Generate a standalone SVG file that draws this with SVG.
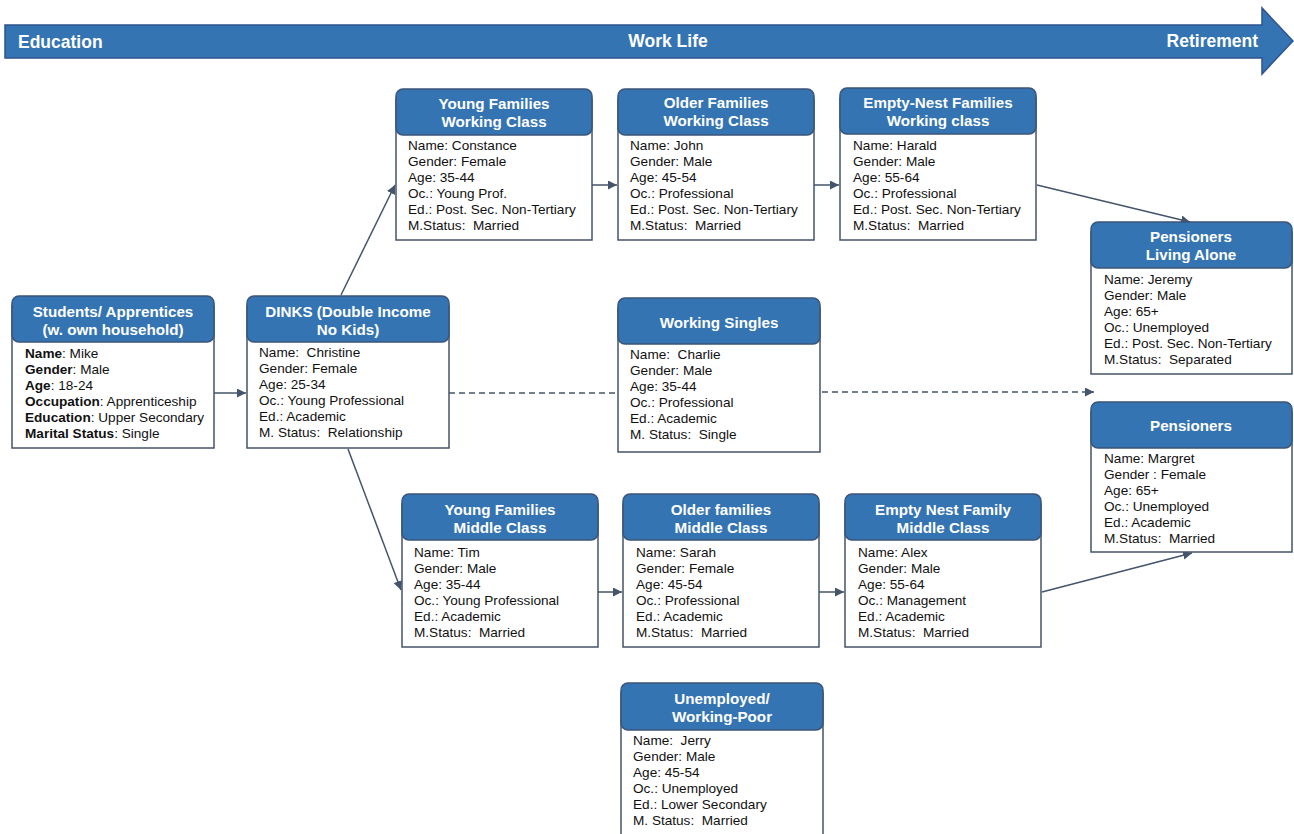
<svg xmlns="http://www.w3.org/2000/svg" width="1294" height="834" viewBox="0 0 1294 834">
<defs>
<style>
.banner{fill:#3474B3;stroke:#2F528F;stroke-width:1.5}
.btxt{font-family:"Liberation Sans",Arial,sans-serif;font-weight:bold;font-size:17.5px;fill:#fff}
.body{fill:#fff;stroke:#44546A;stroke-width:1.5}
.hdr{fill:#3474B3;stroke:#3B5478;stroke-width:1.5}
.ttl{font-family:"Liberation Sans",Arial,sans-serif;font-weight:bold;font-size:15.2px;fill:#fff;text-anchor:middle}
.txt{font-family:"Liberation Sans",Arial,sans-serif;font-size:13.6px;fill:#111}
.b{font-weight:bold}
.con{stroke:#44546A;stroke-width:1.5;fill:none}
.dash{stroke-dasharray:6,4}
</style>
<marker id="ah" viewBox="0 0 10 10" refX="10" refY="5" markerWidth="9" markerHeight="9" markerUnits="userSpaceOnUse" orient="auto">
<path d="M0,0 L10,5 L0,10 z" fill="#44546A"/>
</marker>
</defs>
<rect width="1294" height="834" fill="#fff"/>
<g id="timeline">
<polygon class="banner" points="5,25 1262,25 1262,8 1293,41 1262,74 1262,58 5,58"/>
<text class="btxt" x="18" y="48">Education</text>
<text class="btxt" x="668" y="47" text-anchor="middle">Work Life</text>
<text class="btxt" x="1258" y="47" text-anchor="end">Retirement</text>
</g>
<g id="connectors">
<line class="con" x1="214" y1="393" x2="246" y2="393" marker-end="url(#ah)"/>
<line class="con" x1="341" y1="295" x2="395" y2="185" marker-end="url(#ah)"/>
<line class="con" x1="348" y1="449" x2="401" y2="590" marker-end="url(#ah)"/>
<line class="con" x1="592" y1="185" x2="617" y2="185" marker-end="url(#ah)"/>
<line class="con" x1="814" y1="185" x2="839" y2="185" marker-end="url(#ah)"/>
<line class="con" x1="1037" y1="185" x2="1190" y2="222" marker-end="url(#ah)"/>
<line class="con" x1="598" y1="592" x2="622" y2="592" marker-end="url(#ah)"/>
<line class="con" x1="819" y1="592" x2="844" y2="592" marker-end="url(#ah)"/>
<line class="con" x1="1042" y1="592" x2="1192" y2="553" marker-end="url(#ah)"/>
<line class="con dash" x1="449" y1="393" x2="618" y2="393"/>
<line class="con dash" x1="822" y1="392" x2="1094" y2="392" marker-end="url(#ah)"/>
</g>
<g id="students">
<rect class="body" x="12" y="306" width="202" height="142"/>
<rect class="hdr" x="12" y="296" width="202" height="46" rx="7"/>
<text class="ttl" x="113" y="316.5">Students/ Apprentices</text>
<text class="ttl" x="113" y="334.5">(w. own household)</text>
<text class="txt" x="25" y="358"><tspan class="b">Name</tspan>: Mike</text>
<text class="txt" x="25" y="374"><tspan class="b">Gender</tspan>: Male</text>
<text class="txt" x="25" y="390"><tspan class="b">Age</tspan>: 18-24</text>
<text class="txt" x="25" y="406"><tspan class="b">Occupation</tspan>: Apprenticeship</text>
<text class="txt" x="25" y="422"><tspan class="b">Education</tspan>: Upper Secondary</text>
<text class="txt" x="25" y="438"><tspan class="b">Marital Status</tspan>: Single</text>
</g>
<g id="dinks">
<rect class="body" x="247" y="306" width="202" height="142"/>
<rect class="hdr" x="247" y="296" width="202" height="46" rx="7"/>
<text class="ttl" x="348" y="316.5">DINKS (Double Income</text>
<text class="ttl" x="348" y="334.5">No Kids)</text>
<text class="txt" x="259" y="357" xml:space="preserve">Name:  Christine</text>
<text class="txt" x="259" y="373">Gender: Female</text>
<text class="txt" x="259" y="389">Age: 25-34</text>
<text class="txt" x="259" y="405">Oc.: Young Professional</text>
<text class="txt" x="259" y="421">Ed.: Academic</text>
<text class="txt" x="259" y="437" xml:space="preserve">M. Status:  Relationship</text>
</g>
<g id="young-families-working">
<rect class="body" x="396" y="99" width="196" height="141"/>
<rect class="hdr" x="396" y="89" width="196" height="46" rx="7"/>
<text class="ttl" x="494" y="109">Young Families</text>
<text class="ttl" x="494" y="127">Working Class</text>
<text class="txt" x="408" y="150">Name: Constance</text>
<text class="txt" x="408" y="166">Gender: Female</text>
<text class="txt" x="408" y="182">Age: 35-44</text>
<text class="txt" x="408" y="198">Oc.: Young Prof.</text>
<text class="txt" x="408" y="214">Ed.: Post. Sec. Non-Tertiary</text>
<text class="txt" x="408" y="230" xml:space="preserve">M.Status:  Married</text>
</g>
<g id="older-families-working">
<rect class="body" x="618" y="99" width="196" height="141"/>
<rect class="hdr" x="618" y="89" width="196" height="46" rx="7"/>
<text class="ttl" x="716" y="108">Older Families</text>
<text class="ttl" x="716" y="126">Working Class</text>
<text class="txt" x="630" y="150">Name: John</text>
<text class="txt" x="630" y="166">Gender: Male</text>
<text class="txt" x="630" y="182">Age: 45-54</text>
<text class="txt" x="630" y="198">Oc.: Professional</text>
<text class="txt" x="630" y="214">Ed.: Post. Sec. Non-Tertiary</text>
<text class="txt" x="630" y="230" xml:space="preserve">M.Status:  Married</text>
</g>
<g id="empty-nest-working">
<rect class="body" x="840" y="98" width="196" height="142"/>
<rect class="hdr" x="840" y="88" width="196" height="46" rx="7"/>
<text class="ttl" x="938" y="108">Empty-Nest Families</text>
<text class="ttl" x="938" y="126">Working class</text>
<text class="txt" x="853" y="150">Name: Harald</text>
<text class="txt" x="853" y="166">Gender: Male</text>
<text class="txt" x="853" y="182">Age: 55-64</text>
<text class="txt" x="853" y="198">Oc.: Professional</text>
<text class="txt" x="853" y="214">Ed.: Post. Sec. Non-Tertiary</text>
<text class="txt" x="853" y="230" xml:space="preserve">M.Status:  Married</text>
</g>
<g id="pensioners-alone">
<rect class="body" x="1091" y="232" width="201" height="142"/>
<rect class="hdr" x="1091" y="222" width="201" height="46" rx="7"/>
<text class="ttl" x="1191" y="242">Pensioners</text>
<text class="ttl" x="1191" y="260">Living Alone</text>
<text class="txt" x="1104" y="284">Name: Jeremy</text>
<text class="txt" x="1104" y="300">Gender: Male</text>
<text class="txt" x="1104" y="316">Age: 65+</text>
<text class="txt" x="1104" y="332">Oc.: Unemployed</text>
<text class="txt" x="1104" y="348">Ed.: Post. Sec. Non-Tertiary</text>
<text class="txt" x="1104" y="364" xml:space="preserve">M.Status:  Separated</text>
</g>
<g id="working-singles">
<rect class="body" x="618" y="308" width="202" height="144"/>
<rect class="hdr" x="618" y="298" width="202" height="46" rx="7"/>
<text class="ttl" x="719" y="327.5">Working Singles</text>
<text class="txt" x="630" y="359" xml:space="preserve">Name:  Charlie</text>
<text class="txt" x="630" y="375">Gender: Male</text>
<text class="txt" x="630" y="391">Age: 35-44</text>
<text class="txt" x="630" y="407">Oc.: Professional</text>
<text class="txt" x="630" y="423">Ed.: Academic</text>
<text class="txt" x="630" y="439" xml:space="preserve">M. Status:  Single</text>
</g>
<g id="pensioners">
<rect class="body" x="1091" y="412" width="201" height="140"/>
<rect class="hdr" x="1091" y="402" width="201" height="46" rx="7"/>
<text class="ttl" x="1191" y="431">Pensioners</text>
<text class="txt" x="1104" y="463">Name: Margret</text>
<text class="txt" x="1104" y="479">Gender : Female</text>
<text class="txt" x="1104" y="495">Age: 65+</text>
<text class="txt" x="1104" y="511">Oc.: Unemployed</text>
<text class="txt" x="1104" y="527">Ed.: Academic</text>
<text class="txt" x="1104" y="543" xml:space="preserve">M.Status:  Married</text>
</g>
<g id="young-families-middle">
<rect class="body" x="402" y="504" width="196" height="143"/>
<rect class="hdr" x="402" y="494" width="196" height="46" rx="7"/>
<text class="ttl" x="500" y="514.5">Young Families</text>
<text class="ttl" x="500" y="532.5">Middle Class</text>
<text class="txt" x="414" y="557">Name: Tim</text>
<text class="txt" x="414" y="573">Gender: Male</text>
<text class="txt" x="414" y="589">Age: 35-44</text>
<text class="txt" x="414" y="605">Oc.: Young Professional</text>
<text class="txt" x="414" y="621">Ed.: Academic</text>
<text class="txt" x="414" y="637" xml:space="preserve">M.Status:  Married</text>
</g>
<g id="older-families-middle">
<rect class="body" x="623" y="504" width="196" height="143"/>
<rect class="hdr" x="623" y="494" width="196" height="46" rx="7"/>
<text class="ttl" x="721" y="514.5">Older families</text>
<text class="ttl" x="721" y="532.5">Middle Class</text>
<text class="txt" x="636" y="557">Name: Sarah</text>
<text class="txt" x="636" y="573">Gender: Female</text>
<text class="txt" x="636" y="589">Age: 45-54</text>
<text class="txt" x="636" y="605">Oc.: Professional</text>
<text class="txt" x="636" y="621">Ed.: Academic</text>
<text class="txt" x="636" y="637" xml:space="preserve">M.Status:  Married</text>
</g>
<g id="empty-nest-middle">
<rect class="body" x="845" y="504" width="196" height="143"/>
<rect class="hdr" x="845" y="494" width="196" height="46" rx="7"/>
<text class="ttl" x="943" y="514.5">Empty Nest Family</text>
<text class="ttl" x="943" y="532.5">Middle Class</text>
<text class="txt" x="858" y="557">Name: Alex</text>
<text class="txt" x="858" y="573">Gender: Male</text>
<text class="txt" x="858" y="589">Age: 55-64</text>
<text class="txt" x="858" y="605">Oc.: Management</text>
<text class="txt" x="858" y="621">Ed.: Academic</text>
<text class="txt" x="858" y="637" xml:space="preserve">M.Status:  Married</text>
</g>
<g id="unemployed">
<rect class="body" x="621" y="693" width="202" height="150"/>
<rect class="hdr" x="621" y="683" width="202" height="47" rx="7"/>
<text class="ttl" x="722" y="703.5">Unemployed/</text>
<text class="ttl" x="722" y="721.5">Working-Poor</text>
<text class="txt" x="633" y="745" xml:space="preserve">Name:  Jerry</text>
<text class="txt" x="633" y="761">Gender: Male</text>
<text class="txt" x="633" y="777">Age: 45-54</text>
<text class="txt" x="633" y="793">Oc.: Unemployed</text>
<text class="txt" x="633" y="809">Ed.: Lower Secondary</text>
<text class="txt" x="633" y="825" xml:space="preserve">M. Status:  Married</text>
</g>
</svg>
